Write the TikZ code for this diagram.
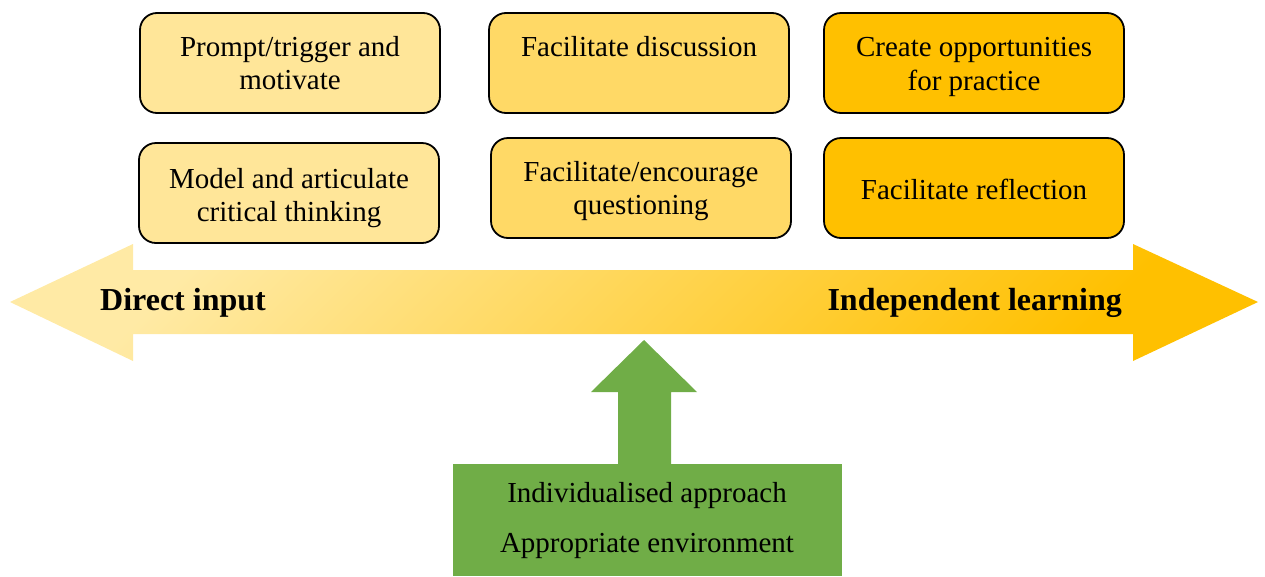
\documentclass[tikz,border=0pt]{standalone}
\usepackage{fontspec}
\setmainfont{Liberation Serif}
\definecolor{yA}{HTML}{FFE699}
\definecolor{yB}{HTML}{FFD966}
\definecolor{yC}{HTML}{FFC000}
\definecolor{arrLight}{HTML}{FFEAA5}
\definecolor{grn}{HTML}{70AD47}
\tikzset{
  stepbox/.style={draw=black, line width=1.8pt, rounded corners=17pt,
    minimum width=300pt, minimum height=100pt, inner sep=0pt},
  steptext/.style={align=center, font=\fontsize{29}{33.5}\selectfont, inner sep=0pt},
  endlabel/.style={font=\fontsize{32}{36}\selectfont\bfseries, inner sep=0pt},
  grntext/.style={font=\fontsize{29}{33.5}\selectfont, inner sep=0pt},
}
\begin{document}
\begin{tikzpicture}[x=1pt,y=-1pt]
\useasboundingbox (0,0) rectangle (1265,576);
% big double arrow
\path[top color=arrLight, bottom color=yC, shading angle=45]
  (10,302) -- (133,244) -- (133,270) -- (1133,270) -- (1133,244) -- (1258,302)
  -- (1133,361) -- (1133,334) -- (133,334) -- (133,361) -- cycle;
\node[endlabel, anchor=west] (direct) at (100,303) {Direct input};
\node[endlabel, anchor=east] (indep) at (1122,303) {Independent learning};
% boxes
\node[stepbox, fill=yA] (b1) at (290,63) {};
\node[stepbox, fill=yA] (b2) at (289,193) {};
\node[stepbox, fill=yB] (b3) at (639,63) {};
\node[stepbox, fill=yB] (b4) at (641,188) {};
\node[stepbox, fill=yC] (b5) at (974,63) {};
\node[stepbox, fill=yC] (b6) at (974,188) {};
\node[steptext] (t1) at (b1.center) {Prompt/trigger and\\motivate};
\node[steptext] (t2) at ([yshift=-5pt]b2.center) {Model and articulate\\critical thinking};
\node[steptext, anchor=base] (t3) at ([yshift=-44pt]b3.north) {Facilitate discussion};
\node[steptext] (t4) at ([yshift=-3pt]b4.center) {Facilitate/encourage\\questioning};
\node[steptext] (t5) at ([yshift=-4pt]b5.center) {Create opportunities\\for practice};
\node[steptext] (t6) at ([yshift=-1pt]b6.center) {Facilitate reflection};
% green box and arrow
\node[fill=grn, minimum width=389pt, minimum height=112pt, inner sep=0pt] (gbox) at (647.5,520) {};
\coordinate (gtip) at (644,340);
\fill[grn] (gtip) -- (697,392) -- (671,392) -- (671,465) -- (618,465) -- (618,392) -- (591,392) -- cycle;
\node[grntext] (g1) at (647,496) {Individualised approach};
\node[grntext] (g2) at (647,546) {Appropriate environment};
\end{tikzpicture}
\end{document}
